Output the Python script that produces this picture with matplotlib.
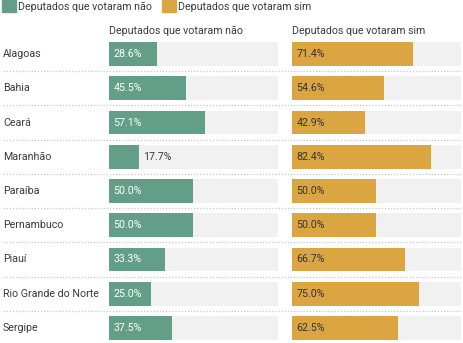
import matplotlib.pyplot as plt
import numpy as np

plt.rcParams['font.family'] = ['Roboto', 'DejaVu Sans']

estados = ["Alagoas", "Bahia", "Ceará", "Maranhão", "Paraíba",
           "Pernambuco", "Piauí", "Rio Grande do Norte", "Sergipe"]
votaram_nao = [28.6, 45.5, 57.1, 17.7, 50.0, 50.0, 33.3, 25.0, 37.5]
votaram_sim = [71.4, 54.6, 42.9, 82.4, 50.0, 50.0, 66.7, 75.0, 62.5]
series = [("Deputados que votaram não", votaram_nao, "#639e88", "white"),
          ("Deputados que votaram sim", votaram_sim, "#dba642", "#333333")]

W, H = 464, 343
fig = plt.figure(figsize=(W / 100, H / 100), dpi=100)

# rows: centre of first row at 54px, pitch 34.25px
pitch = 34.25
top = 54 - pitch / 2
n = len(estados)
bottom = top + n * pitch
ypos = np.arange(n)
fs = 7.7


def px_box(x0, x1):
    return [x0 / W, (H - bottom) / H, (x1 - x0) / W, (bottom - top) / H]


# background axes for row labels and dotted separators
bg = fig.add_axes(px_box(0, W))
bg.set_xlim(0, W)
bg.set_ylim(n - 0.5, -0.5)
bg.axis("off")
for i, nome in enumerate(estados):
    bg.text(3, i, nome, ha="left", va="center", fontsize=fs, color="#3a3a3a")
for i in range(n - 1):
    bg.plot([3, 462], [i + 0.5, i + 0.5], color="#c8c8c8", lw=0.9,
            ls=(0, (1, 1.5)))

for (titulo, vals, cor, cor_txt), (x0, x1) in zip(series, [(109, 278), (292, 461)]):
    ax = fig.add_axes(px_box(x0, x1))
    ax.set_xlim(0, 100)
    ax.set_ylim(n - 0.5, -0.5)
    ax.axis("off")
    ax.barh(ypos, [100] * n, height=0.70, color="#f1f1f1")
    ax.barh(ypos, vals, height=0.70, color=cor)
    for i, v in enumerate(vals):
        rotulo = f"{v:.1f}%"
        if v < 20:
            ax.text(v + 2.5, i, rotulo, ha="left", va="center", fontsize=fs,
                    color="#3a3a3a")
        else:
            ax.text(2.5, i, rotulo, ha="left", va="center", fontsize=fs,
                    color=cor_txt)
    fig.text(x0 / W, 1 - 31 / H, titulo, ha="left", va="center",
             fontsize=fs, color="#3a3a3a")

# legend along the top
for (titulo, _, cor, _), lx in zip(series, [2, 162]):
    fig.patches.append(plt.Rectangle((lx / W, 1 - 12 / H), 14 / W, 12 / H,
                                     transform=fig.transFigure, color=cor))
    fig.text((lx + 16) / W, 1 - 6.5 / H, titulo, ha="left", va="center",
             fontsize=fs, color="#3a3a3a")

fig.savefig("out.png", dpi=100)
